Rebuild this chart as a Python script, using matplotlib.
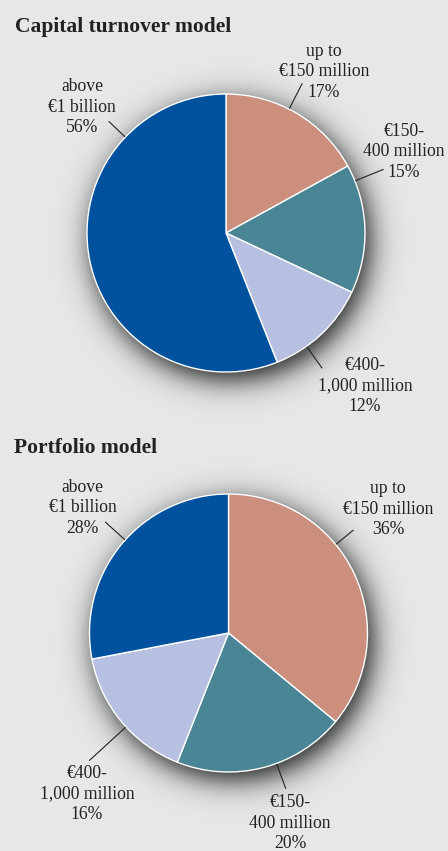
import numpy as np
import matplotlib
matplotlib.use('Agg')
import matplotlib.pyplot as plt

# Canvas size in pixels (figure drawn 1:1 in data units)
W, H = 448, 851

# Data
bands = ['up to\n€150 million', '€150-\n400 million', '€400-\n1,000 million', 'above\n€1 billion']
capital_turnover = [17, 15, 12, 56]
portfolio = [36, 20, 16, 28]
titles = ['Capital turnover model', 'Portfolio model']
colors = ['#cc8f7d', '#4a8595', '#b7c0e0', '#00529e']

# Layout (pixel positions, y measured from top)
radius = 139
title_pos = [(15, 32), (14, 453)]
centers = [(226, 233), (228.5, 633)]
label_pos = [
    [(324, 72), (404, 152), (365, 386), (82, 107)],
    [(388, 509), (290, 823), (87, 794), (82.5, 508)],
]
# leader line: (angle in degrees, outer radius)
leaders = [
    [(63, 168), (22, 170), (-54.6, 166), (136.4, 162)],
    [(39.5, 162), (-69.8, 166), (-137.5, 189), (138, 166)],
]

bg = '#e6e8e8'
txt = '#222222'
font = 'Liberation Serif'


def draw_shadow(ax, cx, cy, r):
    # soft drop shadow, slightly offset to the lower right
    pad = 70
    xs = np.arange(cx - r - pad, cx + r + pad, 1.0)
    ys = np.arange(cy - r - pad, cy + r + pad, 1.0)
    X, Y = np.meshgrid(xs, ys)
    d = np.hypot(X - (cx + 5), Y - (cy - 8))
    a = 0.9 / (1 + np.exp((d - r) / 8.5))
    rgba = np.zeros(X.shape + (4,))
    rgba[..., 3] = a
    ax.imshow(rgba, extent=(xs[0], xs[-1], ys[0], ys[-1]), origin='lower',
              interpolation='bilinear', zorder=1)


fig = plt.figure(figsize=(W / 100, H / 100), dpi=100)
fig.patch.set_facecolor(bg)
ax = fig.add_axes([0, 0, 1, 1])
ax.set_facecolor(bg)

for k, values in enumerate([capital_turnover, portfolio]):
    cx, cy_img = centers[k]
    cy = H - cy_img
    draw_shadow(ax, cx, cy, radius)
    wedges, _ = ax.pie(values, colors=colors, startangle=90, counterclock=False,
                       center=(cx, cy), radius=radius, frame=True,
                       wedgeprops=dict(edgecolor='white', linewidth=1.0))
    for w in wedges:
        w.set_zorder(2)

    tx, ty = title_pos[k]
    ax.text(tx, H - ty, titles[k], fontsize=15.5, fontweight='bold', family=font,
            color=txt, ha='left', va='baseline', zorder=5)

    for j, (band, v) in enumerate(zip(bands, values)):
        lx, ly = label_pos[k][j]
        ax.text(lx, H - ly, f'{band}\n{v}%', fontsize=12.7, family=font, color=txt,
                ha='center', va='center', multialignment='center',
                linespacing=1.3, zorder=5)
        ang, r_out = leaders[k][j]
        t = np.deg2rad(ang)
        ax.plot([cx + (radius + 0.5) * np.cos(t), cx + r_out * np.cos(t)],
                [cy + (radius + 0.5) * np.sin(t), cy + r_out * np.sin(t)],
                color=txt, lw=0.8, zorder=4, solid_capstyle='butt')

ax.set_xlim(0, W)
ax.set_ylim(0, H)
ax.set_aspect('auto')
ax.axis('off')

fig.savefig('out.png', dpi=100, facecolor=bg)
